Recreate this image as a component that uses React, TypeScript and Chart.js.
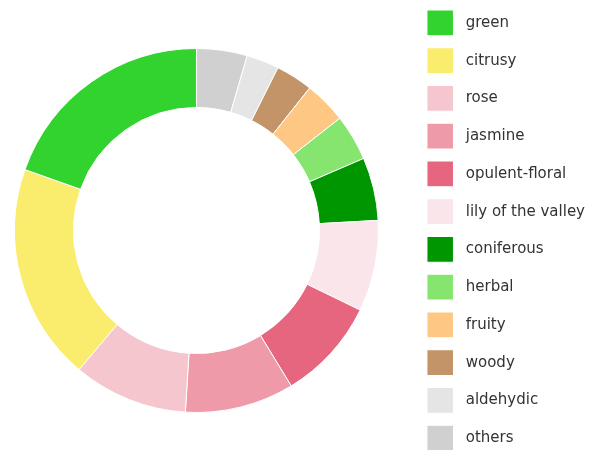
import { useEffect, useRef } from "react";
import { Chart, registerables } from "chart.js";

Chart.register(...registerables);

const categories = [
  "green",
  "citrusy",
  "rose",
  "jasmine",
  "opulent-floral",
  "lily of the valley",
  "coniferous",
  "herbal",
  "fruity",
  "woody",
  "aldehydic",
  "others",
];
const shares = [19.6, 19.3, 10.2, 9.7, 9.1, 8.1, 5.6, 4.1, 3.75, 3.3, 2.9, 4.5];
const colors = [
  "#33d32f",
  "#faed6d",
  "#f5c6cd",
  "#ef9aa8",
  "#e6667f",
  "#fae5ea",
  "#009600",
  "#85e56f",
  "#ffc784",
  "#c29467",
  "#e5e5e5",
  "#d0d0d0",
];

export default function App() {
  const ref = useRef<HTMLCanvasElement>(null);

  useEffect(() => {
    if (!ref.current) return;
    // drawn clockwise by Chart.js, so reverse to get the counter-clockwise order of the reference
    const labels = [...categories].reverse();
    const data = [...shares].reverse();
    const bg = [...colors].reverse();
    const baseGen = (Chart as any).overrides.doughnut.plugins.legend.labels.generateLabels;
    const chart = new Chart(ref.current, {
      type: "doughnut",
      data: {
        labels,
        datasets: [
          {
            data,
            backgroundColor: bg,
            borderColor: "#ffffff",
            borderWidth: 1,
          },
        ],
      },
      options: {
        responsive: false,
        animation: false,
        radius: 182,
        cutout: "67.6%",
        layout: { padding: 0 },
        plugins: {
          legend: {
            position: "right",
            reverse: true,
            labels: {
              boxWidth: 26.5,
              boxHeight: 25.75,
              padding: 12,
              color: "#333333",
              font: { family: "'DejaVu Sans', sans-serif", size: 15 },
              generateLabels: (c: any) =>
                baseGen(c).map((it: any) => ({ ...it, text: " " + it.text })),
            },
          },
          tooltip: { enabled: false },
        },
      } as any,
    });
    return () => chart.destroy();
  }, []);

  return (
    <div
      style={{
        position: "absolute",
        left: 0,
        top: 0,
        width: 594,
        height: 450,
        overflow: "hidden",
        background: "#ffffff",
      }}
    >
      <canvas
        ref={ref}
        width={617}
        height={465}
        style={{ position: "absolute", left: -22, top: -2, width: 617, height: 465 }}
      />
    </div>
  );
}
